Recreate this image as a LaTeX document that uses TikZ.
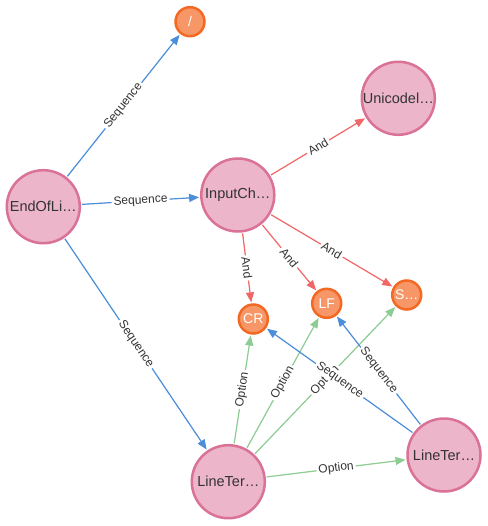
\documentclass[tikz,border=0pt]{standalone}
\usepackage{fontspec}
\setmainfont{Liberation Sans}
\usetikzlibrary{arrows.meta}
\definecolor{pinkfill}{HTML}{ECB5C9}
\definecolor{pinkline}{HTML}{DA7298}
\definecolor{orfill}{HTML}{F79767}
\definecolor{orline}{HTML}{F36924}
\definecolor{seqblue}{HTML}{4C8EDA}
\definecolor{andred}{HTML}{F16667}
\definecolor{optgreen}{HTML}{8DCC93}
\definecolor{txt}{HTML}{333333}
\begin{document}
\begin{tikzpicture}[x=1pt,y=-1pt,
 big/.style={circle, fill=pinkfill, draw=pinkline, line width=2.5pt, minimum size=73pt, inner sep=0pt, font=\fontsize{14.5}{16}\selectfont, text=txt},
 small/.style={circle, fill=orfill, draw=orline, line width=2.5pt, minimum size=29pt, inner sep=0pt, font=\fontsize{14}{16}\selectfont, text=white},
 rel/.style={line width=1.2pt, shorten >=1pt, shorten <=1pt, -{Triangle[length=10pt,width=8pt]}},
 seq/.style={rel, draw=seqblue, fill=seqblue},
 andr/.style={rel, draw=andred, fill=andred},
 opt/.style={rel, draw=optgreen, fill=optgreen},
 lab/.style={midway, sloped, fill=white, inner xsep=2pt, inner ysep=1pt, font=\fontsize{12}{14}\selectfont, text=txt}
]
\useasboundingbox[fill=white] (0,0) rectangle (487,526);

\node[small] (slash) at (190,21.7) {/};
\node[big] (uni) at (398.3,98.3) {Unicodel…};
\node[big] (eol) at (43.3,206.7) {EndOfLi…};
\node[big] (inp) at (237.8,195) {InputCh…};
\node[small] (cr) at (253.3,319) {CR};
\node[small] (lf) at (326.7,303.3) {LF};
\node[small] (s) at (406.7,295) {S…};
\node[big] (ltl) at (228.3,481.7) {LineTer…};
\node[big] (ltr) at (444,455) {LineTer…};

\draw[seq] (eol) -- (slash) node[lab] {Sequence};
\draw[seq] (eol) -- (inp) node[lab] {Sequence};
\draw[seq] (eol) -- (ltl) node[lab] {Sequence};

\draw[andr] (inp) -- (uni) node[lab] {And};
\draw[andr] (inp) -- (cr) node[lab] {And};
\draw[andr] (inp) -- (lf) node[lab] {And};
\draw[andr] (inp) -- (s) node[lab] {And};

\draw[opt] (ltl) -- (cr) node[lab] {Option};
\draw[opt] (ltl) -- (lf) node[lab] {Option};
\draw[opt] (ltl) -- (s) node[lab] {Option};
\draw[opt] (ltl) -- (ltr) node[lab] {Option};

\draw[seq] (ltr) -- (cr) node[lab] {Sequence};
\draw[seq] (ltr) -- (lf) node[lab] {Sequence};
\end{tikzpicture}
\end{document}
